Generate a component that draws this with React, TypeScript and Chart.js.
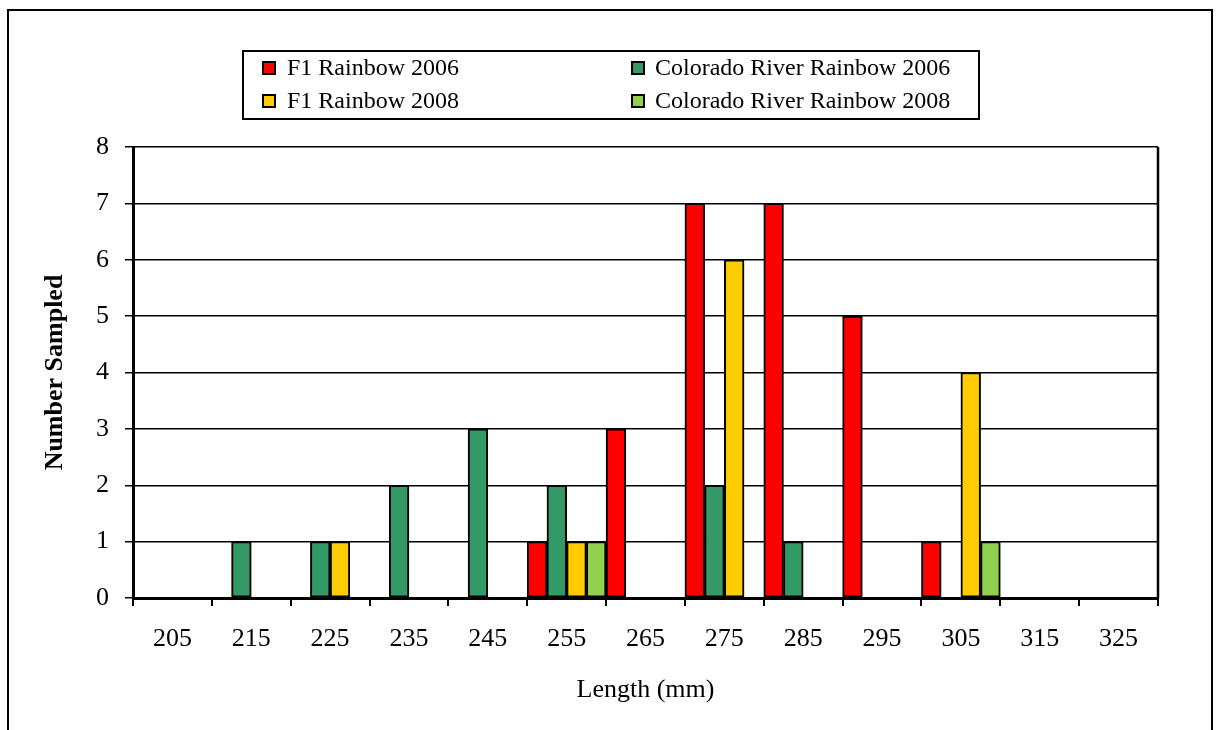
import React, { useEffect, useRef } from "react";
import { Chart, registerables } from "chart.js";

Chart.register(...registerables);

// ---- Data ----
const categories = ["205", "215", "225", "235", "245", "255", "265", "275", "285", "295", "305", "315", "325"];
const f1Rainbow2006 = [0, 0, 0, 0, 0, 1, 3, 7, 7, 5, 1, 0, 0];
const coloradoRainbow2006 = [0, 1, 1, 2, 3, 2, 0, 2, 1, 0, 0, 0, 0];
const f1Rainbow2008 = [0, 0, 1, 0, 0, 1, 0, 6, 0, 0, 4, 0, 0];
const coloradoRainbow2008 = [0, 0, 0, 0, 0, 1, 0, 0, 0, 0, 1, 0, 0];
const seriesNames = ["F1 Rainbow 2006", "Colorado River Rainbow 2006", "F1 Rainbow 2008", "Colorado River Rainbow 2008"];
const seriesColors = ["#FF0000", "#339966", "#FFCC00", "#92D050"];
const yMin = 0;
const yMax = 8;
const yStep = 1;
const yAxisTitle = "Number Sampled";
const xAxisTitle = "Length (mm)";

const FONT = "'Liberation Serif', 'Times New Roman', serif";

const legendPlugin = {
  id: "boxLegend",
  afterDraw(chart: any) {
    const ctx = chart.ctx as CanvasRenderingContext2D;
    ctx.save();
    ctx.strokeStyle = "#000";
    ctx.lineWidth = 2;
    ctx.strokeRect(243, 51, 736, 68);
    const colX = [263, 632];
    const textX = [287, 655];
    const rowY = [68, 101];
    chart.data.datasets.forEach((ds: any, i: number) => {
      const col = i % 2;
      const row = Math.floor(i / 2);
      const mx = colX[col];
      const my = rowY[row] - 6;
      ctx.fillStyle = ds.backgroundColor;
      ctx.fillRect(mx, my, 12, 12);
      ctx.lineWidth = 2;
      ctx.strokeStyle = "#000";
      ctx.strokeRect(mx, my, 12, 12);
      ctx.fillStyle = "#000";
      ctx.font = `24px ${FONT}`;
      ctx.textBaseline = "middle";
      ctx.textAlign = "left";
      ctx.fillText(ds.label, textX[col], rowY[row] + 1);
    });
    // plot area right border
    const a = chart.chartArea;
    ctx.lineWidth = 2.5;
    ctx.beginPath();
    ctx.moveTo(a.right, a.top);
    ctx.lineTo(a.right, a.bottom);
    ctx.stroke();
    ctx.restore();
  },
};

export default function App() {
  const canvasRef = useRef<HTMLCanvasElement | null>(null);

  useEffect(() => {
    if (!canvasRef.current) return;
    const seriesData = [f1Rainbow2006, coloradoRainbow2006, f1Rainbow2008, coloradoRainbow2008];
    const chart = new Chart(canvasRef.current, {
      type: "bar",
      data: {
        labels: categories,
        datasets: seriesData.map((d, i) => ({
          label: seriesNames[i],
          data: d,
          backgroundColor: seriesColors[i],
          borderColor: "#000",
          borderWidth: 2,
          borderSkipped: false,
          barPercentage: 1,
          categoryPercentage: 1,
        })),
      },
      options: {
        responsive: false,
        animation: false,
        devicePixelRatio: 1,
        layout: { padding: { top: 147, right: 58, left: 0, bottom: 0 } },
        plugins: {
          legend: { display: false },
          tooltip: { enabled: false },
        },
        scales: {
          x: {
            type: "category",
            offset: true,
            grid: {
              display: true,
              drawOnChartArea: false,
              drawTicks: true,
              tickLength: 8,
              lineWidth: 2,
              color: "#000",
              offset: true,
            },
            border: { display: true, width: 3, color: "#000" },
            ticks: {
              font: { family: FONT, size: 26 },
              color: "#000",
              padding: 18,
              maxRotation: 0,
              autoSkip: false,
            },
            title: {
              display: true,
              text: xAxisTitle,
              font: { family: FONT, size: 26 },
              color: "#000",
              padding: { top: 0, bottom: 24 },
            },
            afterFit: (s: any) => {
              s.height = 132;
            },
          },
          y: {
            min: yMin,
            max: yMax,
            ticks: {
              stepSize: yStep,
              font: { family: FONT, size: 26 },
              color: "#000",
              padding: 16,
            },
            grid: {
              color: "#000",
              lineWidth: 1.5,
              tickLength: 8,
              drawTicks: true,
            },
            border: { display: true, width: 3, color: "#000" },
            title: {
              display: true,
              text: yAxisTitle,
              font: { family: FONT, size: 26, weight: "bold" },
              color: "#000",
              padding: { top: 40, bottom: 0 },
            },
            afterFit: (s: any) => {
              s.width = 133;
            },
          },
        },
      } as any,
      plugins: [legendPlugin],
    });
    return () => chart.destroy();
  }, []);

  return (
    <>
      <div style={{ position: "fixed", left: 0, top: 0, width: 1216, height: 730, background: "#fff" }}>
        <canvas ref={canvasRef} width={1216} height={730} style={{ display: "block", width: 1216, height: 730 }} />
      </div>
      <div
        style={{
          position: "fixed",
          left: 7,
          top: 9,
          width: 1206,
          height: 740,
          borderLeft: "2px solid #000",
          borderTop: "2px solid #000",
          borderRight: "2px solid #000",
          boxSizing: "border-box",
          pointerEvents: "none",
        }}
      />
    </>
  );
}
